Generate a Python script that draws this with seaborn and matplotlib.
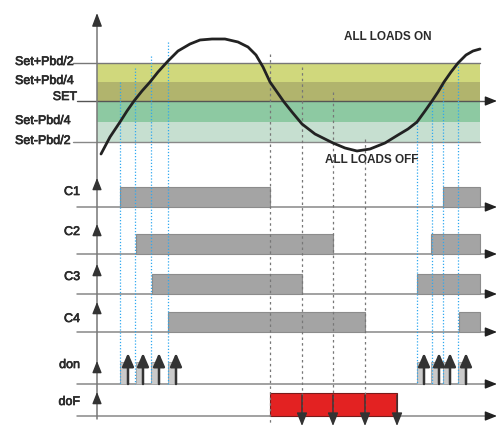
import numpy as np
import pandas as pd
import matplotlib
matplotlib.use("Agg")
import matplotlib.pyplot as plt
import matplotlib.patheffects as pe
import seaborn as sns
from matplotlib.patches import Rectangle

# ---------------- data (pixel-like units) ----------------
level_labels = ["Set+Pbd/2", "Set+Pbd/4", "SET", "Set-Pbd/4", "Set-Pbd/2"]
level_y = [64, 83, 102, 123, 143]

curve_t = [101, 110, 120, 127, 134, 142, 150, 158, 168, 178, 190, 200, 212, 225,
           238, 248, 256, 263, 270, 277, 284, 292, 302, 315, 333, 345, 357, 370,
           385, 398, 408, 417, 425, 432, 438, 444, 451, 458, 466, 473, 480]
curve_v = [155, 138, 123, 112, 102, 92, 83, 73, 62, 52, 45, 41, 40, 40,
           43, 48, 56, 68, 83, 93, 103, 113, 125, 135, 144, 149, 152, 150,
           144, 136, 130, 123, 112, 102, 93, 83, 73, 64, 56, 52, 50]

rows = ["C1", "C2", "C3", "C4", "don", "doF"]
row_base = [208, 255, 295, 333, 385, 417]
row_label_y = [193, 233, 278, 320, 366, 403]
row_arrow_tip = [179, 225, 265, 303, 362, 393]

on_first = [120, 136, 152, 168]     # C1..C4 switch on (rising)
off_times = [270, 333, 302, 365]    # C1..C4 switch off
on_second = [443, 431, 417, 459]    # C1..C4 switch on again
end_time = 480

blue_x = [120, 135, 151, 168, 417, 432, 443, 458]
blue_top = [83, 69, 57, 43, 123, 102, 83, 64]
gray_x = [270, 302, 333, 365]
gray_top = [55, 68, 93, 140]

don_start = [120, 136, 151, 168, 417, 431, 443, 458]
don_arrow = [128, 143, 159, 176, 424, 439, 450, 466]
dof_start, dof_end = 270, 397
dof_arrows = [302, 333, 365, 397]

# ---------------- style ----------------
sns.set_style("white")
plt.rcParams["font.family"] = ["Liberation Sans", "DejaVu Sans"]
TXT = "#2a2a2a"
AX = "#777777"
bold_fx = [pe.withStroke(linewidth=0.5, foreground=TXT)]

fig = plt.figure(figsize=(4.98, 4.27), dpi=100)
ax = fig.add_axes([0, 0, 1, 1])

def arrow(x0, y0, x1, y1, color="#222222", lw=1.0, hl=0.7, hw=0.28, ms=10, z=5):
    ax.annotate("", xy=(x1, y1), xytext=(x0, y0),
                arrowprops=dict(arrowstyle=f"-|>,head_length={hl},head_width={hw}",
                                mutation_scale=ms, color=color, lw=lw,
                                shrinkA=0, shrinkB=0), zorder=z)

# curve (seaborn)
curve_df = pd.DataFrame({"t": curve_t, "v": curve_v})
sns.lineplot(data=curve_df, x="t", y="v", ax=ax, color="#222222", lw=2.0,
             estimator=None, sort=False, zorder=5)
ax.set_xlim(0, 498)
ax.set_ylim(427, 0)
ax.axis("off")

# bands
band_colors = ["#d0d87c", "#b1b46d", "#8dc9a2", "#c6dfd0"]
for i in range(4):
    ax.add_patch(Rectangle((97, level_y[i]), 480 - 97, level_y[i + 1] - level_y[i],
                           facecolor=band_colors[i], edgecolor="none", zorder=1))
ax.plot([73, 480], [level_y[0], level_y[0]], color="#777777", lw=1, zorder=2)
ax.plot([73, 480], [level_y[4], level_y[4]], color="#888888", lw=1, zorder=2)
ax.plot([77, 488], [level_y[2], level_y[2]], color="#555555", lw=1, zorder=2)
arrow(486, level_y[2], 497, level_y[2])

for lab, y in zip(level_labels, level_y):
    if lab == "SET":
        ax.text(77, y - 4, lab, ha="right", va="center", fontsize=9, color=TXT,
                path_effects=bold_fx)
    else:
        ax.text(15, y - 1, lab, ha="left", va="center", fontsize=9, color=TXT,
                path_effects=bold_fx)

ax.text(388, 37, "ALL LOADS ON", ha="center", va="center", fontsize=8.5,
        color=TXT, weight="bold")
ax.text(372, 160, "ALL LOADS OFF", ha="center", va="center", fontsize=8.5,
        color=TXT, weight="bold", zorder=6)

# main vertical axis
ax.plot([97, 97], [420, 24], color=AX, lw=1.1, zorder=3)
arrow(97, 26, 97, 14, color="#333333", hl=0.8, hw=0.3)

# vertical guide lines
for x, t in zip(blue_x, blue_top):
    ax.plot([x, x], [t, 385], color="#2ea8f0", lw=0.9, ls=(0, (1, 1.5)), zorder=4)
for x, t in zip(gray_x, gray_top):
    ax.plot([x, x], [t, 424], color="#777777", lw=0.9, ls=(0, (2, 2.5)), zorder=4)

# rows
for i, (name, base, ly, tip) in enumerate(zip(rows, row_base, row_label_y, row_arrow_tip)):
    ax.plot([77, 488], [base, base], color="#888888", lw=1.1, zorder=2)
    arrow(486, base, 497, base)
    arrow(97, tip + 8, 97, tip, color="#333333")
    ax.text(80, ly, name, ha="right", va="center", fontsize=9, color=TXT,
            path_effects=bold_fx)

# C1..C4 bars
for i in range(4):
    base = row_base[i]
    h = 20
    for a, b in [(on_first[i], off_times[i]), (on_second[i], end_time)]:
        ax.add_patch(Rectangle((a, base - h), b - a, h, facecolor="#a4a4a4",
                               edgecolor="#8c8c8c", lw=0.8, zorder=3))

# don pulses
for s, a in zip(don_start, don_arrow):
    ax.add_patch(Rectangle((s, 363), a - s, 385 - 363, facecolor="#cacaca",
                           edgecolor="#a8a8a8", lw=0.7, zorder=3))
    arrow(a, 385, a, 354, color="#333333", lw=1.8, hl=0.8, hw=0.35)

# doF
ax.add_patch(Rectangle((dof_start, 394), dof_end - dof_start, 417 - 394,
                       facecolor="#e32222", edgecolor="#7a1a1a", lw=0.8, zorder=3))
for x in dof_arrows:
    arrow(x, 396, x, 427, color="#333333", lw=1.0, hl=0.8, hw=0.32)

fig.savefig("out.png", dpi=100)
